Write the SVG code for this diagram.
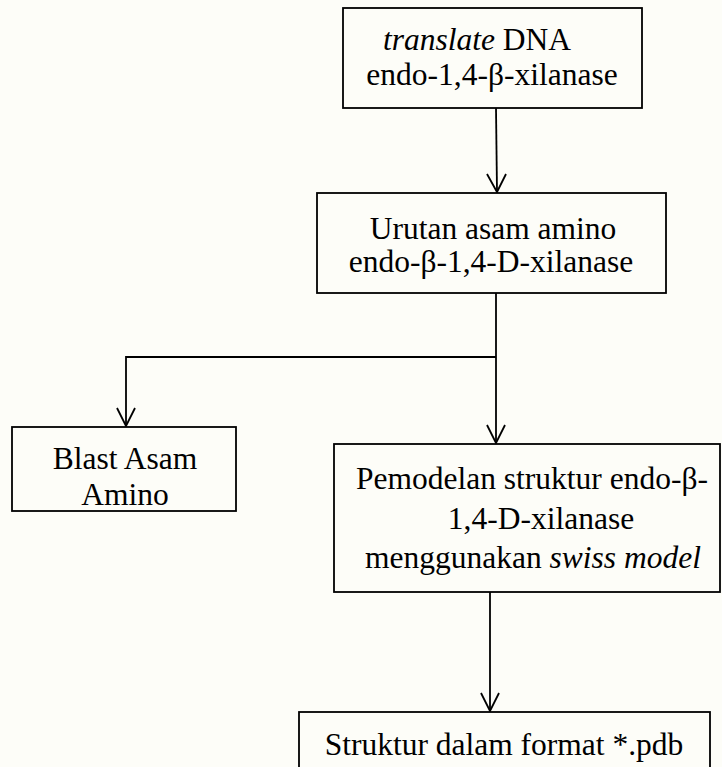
<svg xmlns="http://www.w3.org/2000/svg" width="722" height="767" viewBox="0 0 722 767">
<defs>
<style>
.box{fill:#fdfdf8;stroke:#000;stroke-width:1.8}
.t{font-family:"Liberation Serif","Times New Roman",serif;font-size:31.5px;fill:#000;text-anchor:middle}
.i{font-style:italic}
.c{fill:none;stroke:#000;stroke-width:1.8}
</style>
</defs>
<rect width="722" height="767" fill="#fdfdf8"/>
<g id="connectors">
<path class="c" d="M496,108 L497,192"/>
<path class="c" d="M496,293 L496,443"/>
<path class="c" d="M496,357 L126,357 L126,426"/>
<path class="c" d="M490,592 L490,711"/>
<path d="M487,174 L497,192 L506,174" class="c"/>
<path d="M487,425 L496,443 L505,425" class="c"/>
<path d="M117,408 L126,426 L135,408" class="c"/>
<path d="M481,693 L490,711 L499,693" class="c"/>
</g>
<g id="n1">
<rect class="box" x="343" y="8" width="299" height="100"/>
<text class="t" x="477" y="50"><tspan class="i">translate</tspan> DNA</text>
<text class="t" x="492" y="85">endo-1,4-β-xilanase</text>
</g>
<g id="n2">
<rect class="box" x="317" y="193" width="349" height="100"/>
<text class="t" x="493" y="239">Urutan asam amino</text>
<text class="t" x="491" y="272">endo-β-1,4-D-xilanase</text>
</g>
<g id="n3">
<rect class="box" x="12" y="427" width="224" height="84"/>
<text class="t" x="125" y="469">Blast Asam</text>
<text class="t" x="125" y="505">Amino</text>
</g>
<g id="n4">
<rect class="box" x="334" y="444" width="386" height="148"/>
<text class="t" x="532" y="489">Pemodelan struktur endo-β-</text>
<text class="t" x="541" y="529">1,4-D-xilanase</text>
<text class="t" x="533" y="568">menggunakan <tspan class="i">swiss model</tspan></text>
</g>
<g id="n5">
<rect class="box" x="299" y="712" width="411" height="70"/>
<text class="t" x="504" y="755">Struktur dalam format *.pdb</text>
</g>
</svg>
